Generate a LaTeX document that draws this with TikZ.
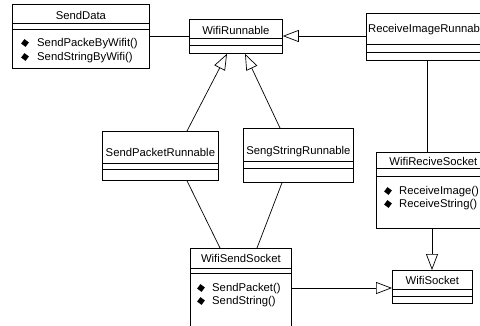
\documentclass[tikz,border=0pt]{standalone}
\usepackage{fontspec}
\setmainfont{Liberation Sans}
\usetikzlibrary{positioning, shapes.geometric, arrows.meta, calc, shadows}

\begin{document}
\begin{tikzpicture}[
  x=1pt, y=-1pt,
  every node/.style={font=\fontsize{11.3}{13}\selectfont},
  classbox/.style={draw, fill=white, line width=0.8pt, inner sep=0pt, anchor=north west,
    drop shadow={shadow xshift=0.8pt, shadow yshift=-0.8pt, opacity=1, fill=black}},
  classtitle/.style={inner sep=0pt, anchor=center},
  method/.style={inner sep=0pt, anchor=west},
  methodmark/.style={diamond, fill=black, inner sep=0pt, minimum size=8pt, rotate=8},
  divider/.style={line width=0.7pt},
  inherit/.style={-{Triangle[open, length=16pt, width=12pt]}, line width=0.7pt},
  assoc/.style={line width=0.7pt}
]
\useasboundingbox (0,0) rectangle (480,325);
\clip (0,0) rectangle (480,325);

% SendData
\node[classbox, minimum width=137pt, minimum height=64pt] (sendData) at (12,4) {};
\draw[divider] (sendData.west |- 0,23) -- (sendData.east |- 0,23);
\draw[divider] (sendData.west |- 0,29) -- (sendData.east |- 0,29);
\node[classtitle] (sendDataName) at (sendData.north |- 0,15) {SendData};
\node[methodmark] (sendDataMarkA) at (25,43) {};
\node[method] (sendDataOpA) at (37,44) {SendPackeByWifit()};
\node[methodmark] (sendDataMarkB) at (25,57) {};
\node[method] (sendDataOpB) at (37,58) {SendStringByWifi()};

% WifiRunnable
\node[classbox, minimum width=93pt, minimum height=34pt] (wifiRunnable) at (189,19) {};
\draw[divider] (wifiRunnable.west |- 0,38) -- (wifiRunnable.east |- 0,38);
\draw[divider] (wifiRunnable.west |- 0,45) -- (wifiRunnable.east |- 0,45);
\node[classtitle] (wifiRunnableName) at (wifiRunnable.north |- 0,30) {WifiRunnable};

% ReceiveImageRunnable -- runs off the right edge
\node[classbox, minimum width=124pt, minimum height=47pt] (receiveImageRunnable) at (366,13) {};
\draw[divider] (receiveImageRunnable.west |- 0,44) -- (receiveImageRunnable.east |- 0,44);
\draw[divider] (receiveImageRunnable.west |- 0,52) -- (receiveImageRunnable.east |- 0,52);
\node[classtitle] (receiveImageRunnableName) at (receiveImageRunnable.north |- 0,30) {ReceiveImageRunnable};

% SendPacketRunnable
\node[classbox, minimum width=116pt, minimum height=49pt] (sendPacketRunnable) at (102,131) {};
\draw[divider] (sendPacketRunnable.west |- 0,163) -- (sendPacketRunnable.east |- 0,163);
\draw[divider] (sendPacketRunnable.west |- 0,169) -- (sendPacketRunnable.east |- 0,169);
\node[classtitle] (sendPacketRunnableName) at (sendPacketRunnable.north |- 0,152) {SendPacketRunnable};

% SengStringRunnable
\node[classbox, minimum width=110pt, minimum height=54pt] (sengStringRunnable) at (243,128) {};
\draw[divider] (sengStringRunnable.west |- 0,161) -- (sengStringRunnable.east |- 0,161);
\draw[divider] (sengStringRunnable.west |- 0,168) -- (sengStringRunnable.east |- 0,168);
\node[classtitle] (sengStringRunnableName) at (sengStringRunnable.north |- 0,152) {SengStringRunnable};

% WifiReciveSocket
\node[classbox, minimum width=114pt, minimum height=76pt] (wifiReciveSocket) at (376,152) {};
\draw[divider] (wifiReciveSocket.west |- 0,168) -- (wifiReciveSocket.east |- 0,168);
\draw[divider] (wifiReciveSocket.west |- 0,176) -- (wifiReciveSocket.east |- 0,176);
\node[classtitle] (wifiReciveSocketName) at (wifiReciveSocket.north |- 0,161) {WifiReciveSocket};
\node[methodmark] (wifiReciveSocketMarkA) at (388,191) {};
\node[method] (wifiReciveSocketOpA) at (399,192) {ReceiveImage()};
\node[methodmark] (wifiReciveSocketMarkB) at (388,204) {};
\node[method] (wifiReciveSocketOpB) at (399,205) {ReceiveString()};

% WifiSendSocket -- runs off the bottom edge
\node[classbox, minimum width=101pt, minimum height=90pt] (wifiSendSocket) at (190,248) {};
\draw[divider] (wifiSendSocket.west |- 0,268) -- (wifiSendSocket.east |- 0,268);
\draw[divider] (wifiSendSocket.west |- 0,273) -- (wifiSendSocket.east |- 0,273);
\node[classtitle] (wifiSendSocketName) at (wifiSendSocket.north |- 0,258) {WifiSendSocket};
\node[methodmark] (wifiSendSocketMarkA) at (201,288) {};
\node[method] (wifiSendSocketOpA) at (212,289) {SendPacket()};
\node[methodmark] (wifiSendSocketMarkB) at (201,301) {};
\node[method] (wifiSendSocketOpB) at (212,302) {SendString()};

% WifiSocket
\node[classbox, minimum width=80pt, minimum height=33pt] (wifiSocket) at (392,270) {};
\draw[divider] (wifiSocket.west |- 0,289) -- (wifiSocket.east |- 0,289);
\draw[divider] (wifiSocket.west |- 0,296) -- (wifiSocket.east |- 0,296);
\node[classtitle] (wifiSocketName) at (wifiSocket.north |- 0,280) {WifiSocket};

% Connectors
\draw[assoc] (sendData.east |- 0,36) -- (wifiRunnable.west |- 0,36);
\draw[inherit] (receiveImageRunnable.west |- 0,36) -- (wifiRunnable.east |- 0,36);
\draw[inherit] ($(sendPacketRunnable.north west)+(85,0)$) -- ($(wifiRunnable.south west)+(38,0)$);
\draw[inherit] ($(sengStringRunnable.north west)+(37,0)$) -- ($(wifiRunnable.south west)+(56,0)$);
\draw[assoc] ($(sendPacketRunnable.south west)+(85,0)$) -- ($(wifiSendSocket.north west)+(30,0)$);
\draw[assoc] ($(sengStringRunnable.south west)+(39,0)$) -- ($(wifiSendSocket.north west)+(67,0)$);
\draw[assoc] ($(receiveImageRunnable.south west)+(61,0)$) -- ($(wifiReciveSocket.north west)+(51,0)$);
\draw[inherit] ($(wifiReciveSocket.south west)+(56,0)$) -- ($(wifiSocket.north west)+(40,0)$);
\draw[inherit] (wifiSendSocket.east |- 0,288) -- (wifiSocket.west |- 0,288);

\end{tikzpicture}
\end{document}
